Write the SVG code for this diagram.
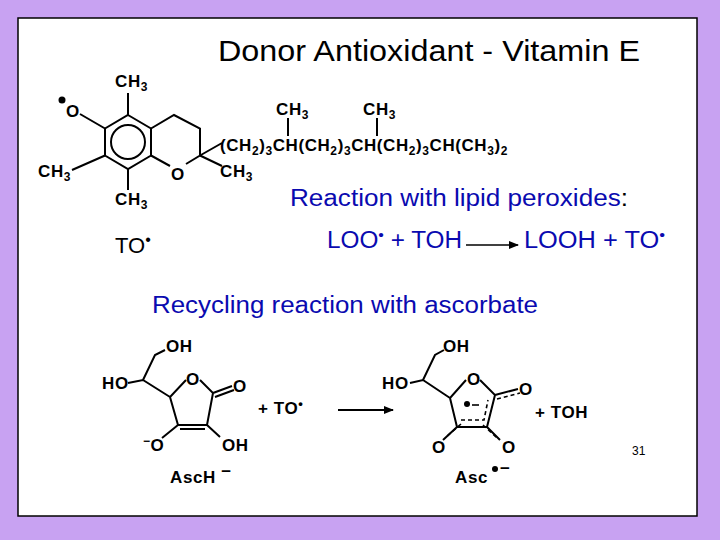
<svg xmlns="http://www.w3.org/2000/svg" width="720" height="540" viewBox="0 0 720 540">
<style>
.b{stroke:#000;stroke-width:2;fill:none}
.d{stroke:#000;stroke-width:1.6;fill:none;stroke-dasharray:4 3}
.c{font-family:"Liberation Sans",Arial,sans-serif;font-weight:bold;font-size:17px;fill:#000;letter-spacing:0.6px}
.s{font-size:12px}
.bl{font-family:"Liberation Sans",Arial,sans-serif;font-size:23px;fill:#0a0ab0}
</style>
<defs><marker id="ah" markerWidth="10" markerHeight="8" refX="9" refY="4" orient="auto" markerUnits="userSpaceOnUse"><path d="M0,0 L10,4 L0,8 Z" fill="#000"/></marker></defs>
<rect width="720" height="540" fill="#c8a2f2"/>
<rect x="18" y="18" width="679" height="498" fill="#fff" stroke="#000" stroke-width="1.5"/>
<text x="218" y="61" font-family="Liberation Sans,Arial,sans-serif" font-size="30" textLength="422" lengthAdjust="spacingAndGlyphs">Donor Antioxidant - Vitamin E</text>
<g id="tocopherol">
<path class="b" d="M128,115 L151,128.5 L151,155.5 L128,169 L105,155.5 L105,128.5 Z"/>
<circle class="b" cx="128" cy="142" r="17"/>
<path class="b" d="M151,128.5 L174,115 L200,128.5 L200,155.5 L186,164 M170,166 L151,155.5"/>
<path class="b" d="M128,115 V93 M105,128.5 L80,114 M105,155.5 L72,170 M128,169 V190 M200,155.5 L222,143 M200,155.5 L222,166 M288,118 V136 M377,118 V136"/>
<circle cx="62" cy="100" r="3.5" fill="#000"/>
<text class="c" x="66" y="117">O</text>
<text class="c" x="115" y="87">CH<tspan class="s" dy="4">3</tspan></text>
<text class="c" x="38" y="177">CH<tspan class="s" dy="4">3</tspan></text>
<text class="c" x="115" y="205">CH<tspan class="s" dy="4">3</tspan></text>
<text class="c" x="171" y="180">O</text>
<text class="c" x="220" y="177">CH<tspan class="s" dy="4">3</tspan></text>
<text class="c" x="276" y="115">CH<tspan class="s" dy="4">3</tspan></text>
<text class="c" x="363" y="115">CH<tspan class="s" dy="4">3</tspan></text>
<text class="c" x="220" y="151" textLength="288" lengthAdjust="spacingAndGlyphs">(CH<tspan class="s" dy="4">2</tspan><tspan dy="-4">)</tspan><tspan class="s" dy="4">3</tspan><tspan dy="-4">CH(CH</tspan><tspan class="s" dy="4">2</tspan><tspan dy="-4">)</tspan><tspan class="s" dy="4">3</tspan><tspan dy="-4">CH(CH</tspan><tspan class="s" dy="4">2</tspan><tspan dy="-4">)</tspan><tspan class="s" dy="4">3</tspan><tspan dy="-4">CH(CH</tspan><tspan class="s" dy="4">3</tspan><tspan dy="-4">)</tspan><tspan class="s" dy="4">2</tspan></text>
</g>
<text class="bl" x="290" y="206" textLength="338" lengthAdjust="spacingAndGlyphs">Reaction with lipid peroxides<tspan fill="#000">:</tspan></text>
<text x="115" y="253" font-family="Liberation Sans,Arial,sans-serif" font-size="22">TO<tspan font-size="16" dy="-8">•</tspan></text>
<text class="bl" x="327" y="248" textLength="135" lengthAdjust="spacingAndGlyphs">LOO<tspan font-size="15" dy="-8">•</tspan><tspan dy="8"> + TOH</tspan></text>
<g id="conn"><path d="M466,245 H518" stroke="#000" stroke-width="1.3" marker-end="url(#ah)"/>
<path d="M338,410 H393" stroke="#000" stroke-width="2" marker-end="url(#ah)"/></g>
<text class="bl" x="524" y="248" textLength="141" lengthAdjust="spacingAndGlyphs">LOOH + TO<tspan font-size="15" dy="-8">•</tspan></text>
<text class="bl" x="152" y="313" textLength="386" lengthAdjust="spacingAndGlyphs">Recycling reaction with ascorbate</text>
<g id="asch">
<path class="b" d="M186,380 L170,397 L178,425 L207,425 L213,393 L200,380 M213,393 L232,386 M215,397 L234,390 M180,429 L205,429 M170,397 L143,380 L128,383 M143,380 L155,355 L165,350 M178,425 L162,438 M207,425 L220,437"/>
<text class="c" x="186" y="385">O</text>
<text class="c" x="233" y="392">O</text>
<text class="c" x="102" y="389">HO</text>
<text class="c" x="166" y="352">OH</text>
<text class="c" x="143" y="451"><tspan class="s" dy="-6">−</tspan><tspan dy="6">O</tspan></text>
<text class="c" x="222" y="451">OH</text>
<text class="c" x="170" y="483">AscH<tspan dy="-6"> −</tspan></text>
</g>
<text class="c" x="258" y="414">+  TO<tspan font-size="13" dy="-6">•</tspan></text>
<g id="asc">
<path class="b" d="M466,380 L450,398 L457,427 L487,427 L495,395 L480,380 M495,395 L518,389 M450,398 L423,380 L410,383 M423,380 L435,355 L444,350 M457,427 L443,440 M487,427 L500,440"/>
<path class="d" d="M497,399 L520,393 M461,424 L446,437 M483,425 L497,438 M461,420 L484,420 L488,400"/>
<circle cx="467" cy="404" r="3" fill="#000"/>
<path d="M472,405 H479" stroke="#000" stroke-width="1.6"/>
<text class="c" x="467" y="385">O</text>
<text class="c" x="519" y="395">O</text>
<text class="c" x="382" y="389">HO</text>
<text class="c" x="443" y="352">OH</text>
<text class="c" x="432" y="453">O</text>
<text class="c" x="502" y="453">O</text>
<text class="c" x="455" y="483">Asc</text>
<circle cx="495" cy="469" r="3" fill="#000"/>
<text class="c" x="500" y="474">−</text>
</g>
<text class="c" x="535" y="418">+  TOH</text>
<text x="632" y="455" font-family="Liberation Sans,Arial,sans-serif" font-size="12">31</text>
</svg>
